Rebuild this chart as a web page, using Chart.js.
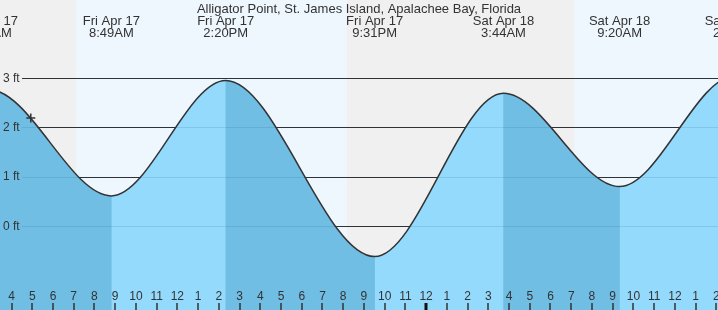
<!DOCTYPE html>
<html>
<head>
<meta charset="utf-8">
<script src="https://cdn.jsdelivr.net/npm/chart.js@4.4.1/dist/chart.umd.min.js"></script>
<style>
html,body{margin:0;padding:0;background:#fff;}
#wrap{width:718px;height:310px;}
</style>
</head>
<body>
<div id="wrap"><canvas id="c" width="718" height="310"></canvas></div>
<script>
// Hours measured from Fri Apr 17, 00:00
const title = "Alligator Point, St. James Island, Apalachee Bay, Florida";
const tideTimes   = [-3.3, 2.93, 8.817, 14.333, 21.517, 27.733, 33.333, 38.917, 45.8];
const tideHeights = [-0.50, 2.76, 0.61, 2.95, -0.62, 2.69, 0.80, 3.05, -0.50];
const tideDates   = ["Thu Apr 16", "Fri Apr 17", "Fri Apr 17", "Fri Apr 17", "Fri Apr 17", "Sat Apr 18", "Sat Apr 18", "Sat Apr 18", "Sat Apr 18"];
const tideClock   = ["8:42PM", "2:56AM", "8:49AM", "2:20PM", "9:31PM", "3:44AM", "9:20AM", "2:55PM", "9:48PM"];
const nowTime = 4.93, nowHeight = 2.19;
const sunTimes = [-4.8, 7.11, 20.18, 31.15, 44.2]; // sunset, sunrise, sunset, sunrise, sunset
const hourTicks  = [4,5,6,7,8,9,10,11,12,13,14,15,16,17,18,19,20,21,22,23,24,25,26,27,28,29,30,31,32,33,34,35,36,37,38];
const hourLabels = ["4","5","6","7","8","9","10","11","12","1","2","3","4","5","6","7","8","9","10","11","12","1","2","3","4","5","6","7","8","9","10","11","12","1","2"];
const yTicks  = [0, 1, 2, 3];
const yLabels = ["0 ft", "1 ft", "2 ft", "3 ft"];
const xMin = 3.445, xMax = 38.08, yMin = -1.703, yMax = 4.581;

const FONT = '"Liberation Sans", Arial, sans-serif';
const NIGHT = '#f0f0f0', DAY = '#eef6fe';
const FALL = '#70bee4', RISE = '#94dafc';

const tidePoints = tideTimes.map((t, i) => ({x: t, y: tideHeights[i]}));

const bgPlugin = {
  id: 'bg',
  beforeDatasetsDraw(chart) {
    const {ctx, chartArea: a, scales: {x, y}} = chart;
    ctx.save();
    ctx.fillStyle = NIGHT;
    ctx.fillRect(a.left, a.top, a.right - a.left, a.bottom - a.top);
    ctx.fillStyle = DAY;
    for (let i = 1; i + 1 < sunTimes.length; i += 2) {
      const x0 = Math.max(a.left, x.getPixelForValue(sunTimes[i]));
      const x1 = Math.min(a.right, x.getPixelForValue(sunTimes[i + 1]));
      if (x1 > x0) ctx.fillRect(x0, a.top, x1 - x0, a.bottom - a.top);
    }
    ctx.strokeStyle = '#333';
    ctx.lineWidth = 1;
    yTicks.forEach(v => {
      const py = Math.round(y.getPixelForValue(v)) + 0.5;
      ctx.beginPath(); ctx.moveTo(a.left + 22, py); ctx.lineTo(a.right, py); ctx.stroke();
    });
    ctx.restore();
  },
  afterDatasetsDraw(chart) {
    const {ctx, chartArea: a, scales: {x, y}} = chart;
    ctx.save();
    // faint grid lines visible through the water
    ctx.strokeStyle = 'rgba(20,60,100,0.12)';
    ctx.lineWidth = 1;
    yTicks.forEach(v => {
      const py = Math.round(y.getPixelForValue(v)) + 0.5;
      ctx.beginPath(); ctx.moveTo(a.left + 22, py); ctx.lineTo(a.right, py); ctx.stroke();
    });
    ctx.fillStyle = '#333';
    // y labels
    ctx.font = '12px ' + FONT;
    ctx.textAlign = 'left'; ctx.textBaseline = 'middle';
    yTicks.forEach((v, i) => ctx.fillText(yLabels[i], a.left + 3, y.getPixelForValue(v) + 0.5));
    // hour labels and ticks
    ctx.textAlign = 'center'; ctx.textBaseline = 'alphabetic';
    hourTicks.forEach((h, i) => {
      const px = x.getPixelForValue(h);
      ctx.fillText(hourLabels[i], px, a.bottom - 10);
      const mid = (h % 24 === 0);
      ctx.fillStyle = mid ? '#111' : '#333';
      ctx.fillRect(Math.round(px) - (mid ? 1.5 : 0.75), a.bottom - 7, mid ? 3 : 1.5, 7);
      ctx.fillStyle = '#333';
    });
    // title and extreme labels
    ctx.font = '13px ' + FONT;
    ctx.fillText(title, (a.left + a.right) / 2, a.top + 13);
    tideTimes.forEach((t, i) => {
      const px = x.getPixelForValue(t);
      if (px < a.left - 60 || px > a.right + 60) return;
      ctx.fillText(tideDates[i], px, a.top + 25);
      ctx.fillText(tideClock[i], px, a.top + 37);
    });
    ctx.restore();
  }
};

new Chart(document.getElementById('c'), {
  type: 'line',
  data: {
    datasets: [
      { // "now" marker
        type: 'scatter',
        data: [{x: nowTime, y: nowHeight}],
        pointStyle: 'cross', pointRadius: 4.5, pointBorderColor: '#333', pointBorderWidth: 1.5,
        showLine: false, order: 0
      },
      { // tide curve line
        data: tidePoints,
        borderColor: '#333', borderWidth: 1.5,
        pointRadius: 0, cubicInterpolationMode: 'monotone',
        fill: false, order: 1
      },
      { // rising-tide water overlay
        data: tidePoints,
        borderWidth: 0, borderColor: 'rgba(0,0,0,0)',
        pointRadius: 0, cubicInterpolationMode: 'monotone',
        fill: 'start', backgroundColor: RISE,
        segment: {
          backgroundColor: c => c.p1.parsed.y > c.p0.parsed.y ? RISE : 'rgba(0,0,0,0)'
        },
        order: 2
      },
      { // falling-tide water base
        data: tidePoints,
        borderWidth: 0, borderColor: 'rgba(0,0,0,0)',
        pointRadius: 0, cubicInterpolationMode: 'monotone',
        fill: 'start', backgroundColor: FALL,
        order: 3
      }
    ]
  },
  options: {
    responsive: false, animation: false,
    layout: {padding: 0, autoPadding: false},
    plugins: {legend: {display: false}, tooltip: {enabled: false}, title: {display: false}},
    scales: {
      x: {type: 'linear', min: xMin, max: xMax, display: false},
      y: {type: 'linear', min: yMin, max: yMax, display: false}
    }
  },
  plugins: [bgPlugin]
});
</script>
</body>
</html>
